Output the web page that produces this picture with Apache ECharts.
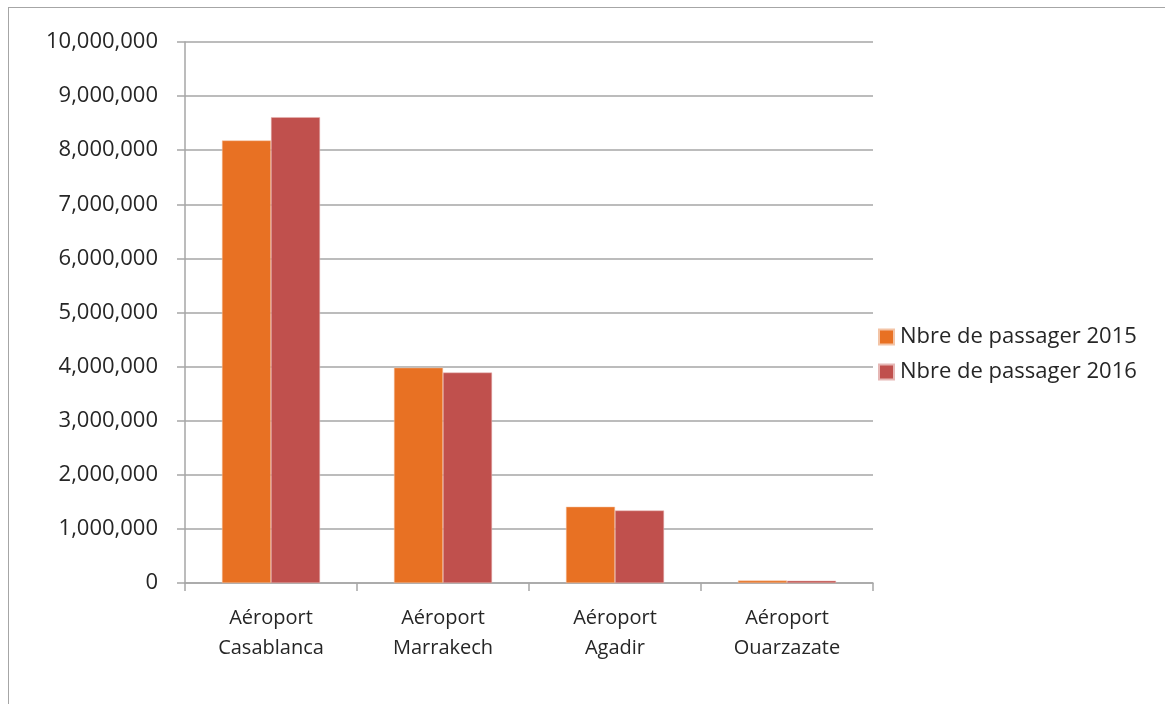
<!DOCTYPE html>
<html>
<head>
<meta charset="utf-8">
<script src="https://cdn.jsdelivr.net/npm/echarts@6/dist/echarts.min.js"></script>
<style>
  html, body { margin: 0; padding: 0; background: #fff; }
  #frame { position: absolute; left: 8px; top: 7px; width: 1170px; height: 720px; border: 1.5px solid #a6a6a6; box-sizing: border-box; }
  #chart { position: absolute; left: 0; top: 0; width: 1165px; height: 704px; }
</style>
</head>
<body>
<div id="frame"></div>
<div id="chart"></div>
<script>
// données
const categories = ['Aéroport\nCasablanca', 'Aéroport\nMarrakech', 'Aéroport\nAgadir', 'Aéroport\nOuarzazate'];
const seriesNames = ['Nbre de passager 2015', 'Nbre de passager 2016'];
const pax2015 = [8180000, 3980000, 1410000, 45000];
const pax2016 = [8610000, 3890000, 1340000, 42000];
const colors = ['#E87123', '#C0504D'];

const chart = echarts.init(document.getElementById('chart'), null, { renderer: 'canvas' });
const font = 'Open Sans, Liberation Sans, sans-serif';
const gray = '#a6a6a6';
const txt = '#262626';

const option = {
    animation: false,
    color: colors,
    grid: { left: 185, right: 292, top: 42, bottom: 121 },
    legend: {
        orient: 'vertical',
        left: 873,
        top: 321,
        itemWidth: 15,
        itemHeight: 15,
        itemGap: 13,
        icon: 'rect',
        textStyle: { fontFamily: font, fontSize: 22, color: txt, padding: [0, 0, 0, 1] },
        data: seriesNames
    },
    xAxis: {
        type: 'category',
        data: categories,
        axisLine: { lineStyle: { color: gray, width: 1.5 } },
        axisTick: { show: true, length: 8, lineStyle: { color: gray, width: 1.5 } },
        axisLabel: { fontFamily: font, fontSize: 20, color: txt, lineHeight: 30, margin: 20 }
    },
    yAxis: {
        type: 'value',
        min: 0,
        max: 10000000,
        interval: 1000000,
        axisLine: { show: true, lineStyle: { color: gray, width: 1.5 } },
        axisTick: { show: true, length: 8, lineStyle: { color: gray, width: 1.5 } },
        splitLine: { lineStyle: { color: gray, width: 1.5 } },
        axisLabel: {
            fontFamily: font, fontSize: 22, color: txt, margin: 27,
            formatter: v => v.toLocaleString('en-US')
        }
    },
    series: [
        {
            name: seriesNames[0], type: 'bar', data: pax2015,
            barGap: '0%', barCategoryGap: '43%',
            itemStyle: { borderColor: '#f3c4a6', borderWidth: 0.5 }
        },
        {
            name: seriesNames[1], type: 'bar', data: pax2016,
            itemStyle: { borderColor: '#e6b7b5', borderWidth: 0.5 }
        }
    ]
};
chart.setOption(option);
</script>
</body>
</html>
